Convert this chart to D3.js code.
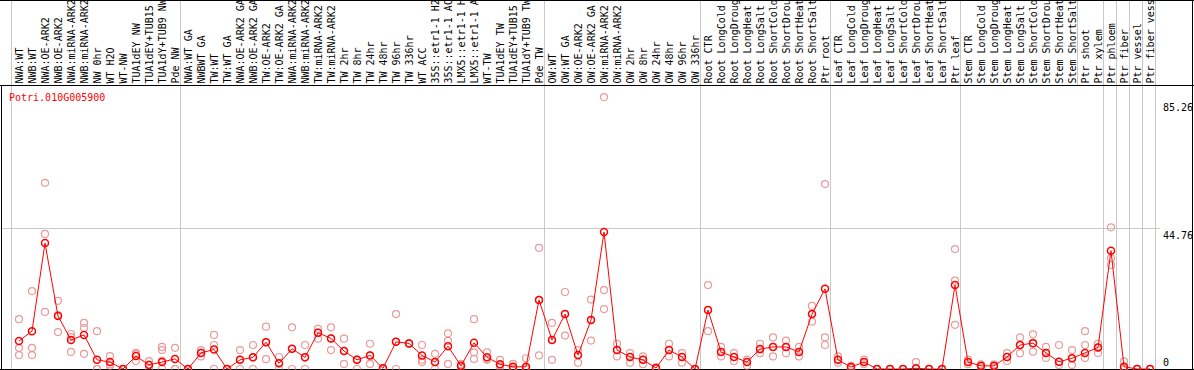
<!DOCTYPE html>
<html>
<head>
<meta charset="utf-8">
<script src="https://cdn.jsdelivr.net/npm/d3@7"></script>
<style>
  body { margin: 0; background: #fff; }
  svg { display: block; font-family: "DejaVu Sans Mono", monospace; font-size: 10px; }
</style>
</head>
<body>
<div id="chart"></div>
<script>
const gene = "Potri.010G005900";

const samples = [
  "NWA:WT", "NWB:WT", "NWA:OE-ARK2", "NWB:OE-ARK2", "NWA:miRNA-ARK2", "NWB:miRNA-ARK2",
  "NW 0hr", "WT H2O", "WT-NW", "TUA1dEY NW", "TUA1dEY+TUB15 NW", "TUA1dY+TUB9 NW", "Pde NW",
  "NWA:WT GA", "NWBWT GA", "TW:WT", "TW:WT GA", "NWA:OE-ARK2 GA", "NWB:OE-ARK2 GA",
  "TW:OE-ARK2", "TW:OE-ARK2 GA", "NWA:miRNA-ARK2 GA", "NWB:miRNA-ARK2 GA", "TW:miRNA-ARK2",
  "TW:miRNA-ARK2 GA", "TW 2hr", "TW 8hr", "TW 24hr", "TW 48hr", "TW 96hr", "TW 336hr", "WT ACC",
  "35S::etr1-1 H2O", "35S::etr1-1 ACC", "LMX5::etr1-1 H2O", "LMX5::etr1-1 ACC", "WT-TW",
  "TUA1dEY TW", "TUA1dEY+TUB15 TW", "TUA1dY+TUB9 TW", "Pde TW",
  "OW:WT", "OW:WT GA", "OW:OE-ARK2", "OW:OE-ARK2 GA", "OW:miRNA-ARK2", "OW:miRNA-ARK2 GA",
  "OW 2hr", "OW 8hr", "OW 24hr", "OW 48hr", "OW 96hr", "OW 336hr",
  "Root CTR", "Root LongCold", "Root LongDrought", "Root LongHeat", "Root LongSalt",
  "Root ShortCold", "Root ShortDrought", "Root ShortHeat", "Root ShortSalt", "Ptr root",
  "Leaf CTR", "Leaf LongCold", "Leaf LongDrought", "Leaf LongHeat", "Leaf LongSalt",
  "Leaf ShortCold", "Leaf ShortDrought", "Leaf ShortHeat", "Leaf ShortSalt", "Ptr leaf",
  "Stem CTR", "Stem LongCold", "Stem LongDrought", "Stem LongHeat", "Stem LongSalt",
  "Stem ShortCold", "Stem ShortDrought", "Stem ShortHeat", "Stem ShortSalt",
  "Ptr shoot", "Ptr xylem", "Ptr phloem", "Ptr fiber", "Ptr vessel", "Ptr fiber vessel"
];

// mean expression per sample
const means = [
  8.9, 12.0, 39.9, 16.8, 9.2, 10.8, 2.9, 2.2, 0, 4.1, 1.3, 2.2, 3.2,
  0, 5.1, 6.2, 0, 2.9, 3.7, 8.5, 1.8, 6.4, 3.7, 11.5, 9.7, 5.7, 2.9, 4.3, 0.2,
  8.6, 8.1, 4.3, 2.2, 7.2, 1.0, 8.3, 3.7, 1.5, 0.7, 0.7, 21.9,
  9.2, 17.4, 4.4, 15.5, 43.4, 6.0, 3.8, 2.9, 0.3, 6.0, 3.8, 0,
  18.7, 5.4, 3.8, 2.2, 6.3, 7.0, 7.0, 5.4, 17.4, 25.4,
  2.9, 0.6, 2.2, 0, 0, 0, 0.2, 0, 0, 26.6,
  2.2, 1.0, 1.0, 3.8, 7.6, 8.2, 5.1, 2.3, 3.4,
  5.1, 6.8, 37.5, 0.7, 0, 0
];

// individual replicates per sample
const reps = [
  [15.8, 6.7, 4.4], [24.7, 6.7, 4.4], [59.0, 42.8, 18.1], [21.6, 17.1, 11.7], [11.1, 10.1, 5.4],
  [14.6, 13.0, 4.8], [12.0, 0, 0], [4.1, 1.0, 1.5], [0, 0, 0], [5.1, 2.5, 4.7], [2.5, 0, 1.4],
  [7.0, 6.0, 2.6, 0], [6.7, 0, 0],
  [0, 0, 0], [5.1, 4.0, 6.0], [10.8, 7.6, 0], [0, 0, 0], [6.0, 0, 2.9], [7.6, 0, 3.7],
  [13.4, 3.1, 8.5], [3.8, 0, 1.8], [13.2, 0, 6.4], [7.6, 0, 3.7], [12.7, 9.6, 11.5],
  [13.2, 6.0, 9.7], [9.6, 1.6, 5.7], [3.0, 0, 2.9], [8.0, 1.6, 4.3], [0.2, 0, 0.3],
  [17.4, 0, 8.6], [8.1, 8.1, 8.1], [7.6, 2.9, 2.2], [4.8, 0, 2.2], [11.3, 8.9, 1.6],
  [1.6, 1.0, 0.5], [15.8, 5.3, 3.2], [5.3, 3.0, 3.0], [2.9, 1.0, 0.5], [1.6, 0.5, 0],
  [3.4, 0, 0.5], [38.4, 21.9, 4.3],
  [14.6, 2.9, 9.2], [24.4, 10.6, 17.4], [6.0, 2.0, 4.4], [22.0, 9.0, 15.5], [86.2, 25.0, 19.0],
  [8.0, 4.0, 6.0], [5.0, 2.0, 3.8], [4.0, 1.5, 2.9], [0.5, 0, 0.3], [8.0, 4.0, 6.0],
  [5.0, 2.0, 3.8], [0, 0, 0],
  [26.6, 12.0, 18.7], [7.0, 4.0, 5.4], [5.0, 2.5, 3.8], [3.0, 1.0, 2.2], [8.0, 5.0, 6.3],
  [10.0, 4.0, 7.0], [9.0, 5.0, 7.0], [7.0, 4.0, 5.4], [20.0, 15.0, 17.4], [58.6, 10.0, 7.6],
  [4.0, 2.0, 2.9], [1.0, 0.3, 0.6], [3.0, 1.5, 2.2], [0, 0, 0], [0, 0, 0], [0, 0, 0],
  [2.2, 0, 0], [0, 0, 0], [0, 0, 0], [38.0, 28.0, 14.0],
  [3.0, 1.5, 2.2], [1.5, 0.5, 1.0], [1.5, 0.5, 1.0], [5.0, 2.5, 3.8], [10.0, 5.0, 7.6],
  [11.0, 5.5, 8.2], [7.0, 3.5, 5.1], [7.6, 1.3, 2.3], [6.0, 1.3, 3.4],
  [12.0, 7.6, 3.5], [8.0, 6.8, 5.1], [44.9, 35.1, 33.0], [2.4, 0, 0.7], [0, 0, 0], [0, 0, 0]
];

// first sample index of each block (vertical separators)
const groupStarts = [0, 13, 41, 53, 63, 73, 84, 85, 86, 87, 88];
const headerOnlyStarts = [82];
const yTicks = [85.26, 44.76, 0];
const maxLabelChars = 14;

const W = 1194, H = 370;
const headerBottom = 85.5, plotBottom = 369;

const svg = d3.select("#chart").append("svg")
  .attr("width", W)
  .attr("height", H);

const x = d3.scaleBand()
  .domain(d3.range(samples.length))
  .range([11, 11 + 13 * samples.length]);

const y = d3.scaleLinear()
  .domain([0, 85.26])
  .range([plotBottom, 100]);

const cx = i => x(i) + 8;
const edge = d => 11 + 13 * d + 0.5;

// gridline at middle tick
svg.append("line")
  .attr("x1", 1).attr("x2", 1160)
  .attr("y1", Math.round(y(44.76)) + 0.5).attr("y2", Math.round(y(44.76)) + 0.5)
  .attr("stroke", "#c8c8c8");

// group separators
svg.selectAll(".sep")
  .data(groupStarts)
  .enter().append("line")
  .attr("class", "sep")
  .attr("x1", edge).attr("x2", edge)
  .attr("y1", 0).attr("y2", H)
  .attr("stroke", "#c8c8c8");

svg.selectAll(".hsep")
  .data(headerOnlyStarts)
  .enter().append("line")
  .attr("class", "hsep")
  .attr("x1", edge).attr("x2", edge)
  .attr("y1", 0).attr("y2", headerBottom)
  .attr("stroke", "#c8c8c8");

// header labels (header is only tall enough for ~14 characters)
svg.append("g")
  .selectAll("text")
  .data(samples)
  .enter().append("text")
  .attr("transform", (d, i) => `translate(${x(i) + 12},83.5) rotate(-90)`)
  .attr("fill", "#000")
  .text(d => d.slice(0, maxLabelChars).trimEnd());

// frame
const frame = svg.append("g").attr("stroke", "#000").attr("fill", "none");
frame.append("line").attr("x1", 0).attr("x2", W).attr("y1", 0.5).attr("y2", 0.5);
frame.append("line").attr("x1", 0).attr("x2", W).attr("y1", headerBottom).attr("y2", headerBottom);
frame.append("line").attr("x1", 1192.5).attr("x2", 1192.5).attr("y1", 0).attr("y2", H);
frame.append("line").attr("x1", 1.5).attr("x2", 1.5).attr("y1", headerBottom).attr("y2", H);
frame.append("line").attr("x1", 0).attr("x2", W).attr("y1", plotBottom + 0.5).attr("y2", plotBottom + 0.5);

// gene title
svg.append("text")
  .attr("x", 9).attr("y", 101)
  .attr("fill", "#f00")
  .text(gene);

// y labels
svg.selectAll(".ylab")
  .data(yTicks)
  .enter().append("text")
  .attr("class", "ylab")
  .attr("x", 1163)
  .attr("y", d => d === 0 ? 366 : y(d) + 11)
  .text(d => d);

// clip the marks to the plot area
svg.append("clipPath").attr("id", "plotclip")
  .append("rect").attr("x", 2).attr("y", headerBottom + 1).attr("width", 1190).attr("height", plotBottom - headerBottom - 0.5);

const plot = svg.append("g").attr("clip-path", "url(#plotclip)");

const repPts = [];
reps.forEach((r, i) => r.forEach(v => repPts.push({ i, v })));

plot.selectAll(".rep")
  .data(repPts)
  .enter().append("circle")
  .attr("class", "rep")
  .attr("cx", d => cx(d.i))
  .attr("cy", d => y(d.v))
  .attr("r", 3.5)
  .attr("fill", "none")
  .attr("stroke", "#eb9a9a")
  .attr("stroke-width", 1.2);

plot.append("path")
  .datum(means)
  .attr("fill", "none")
  .attr("stroke", "#f00")
  .attr("stroke-width", 1)
  .attr("d", d3.line().x((d, i) => cx(i)).y(d => y(d)));

plot.selectAll(".mean")
  .data(means)
  .enter().append("circle")
  .attr("class", "mean")
  .attr("cx", (d, i) => cx(i))
  .attr("cy", d => y(d))
  .attr("r", 3.5)
  .attr("fill", "none")
  .attr("stroke", "#f00")
  .attr("stroke-width", 1.5);
</script>
</body>
</html>
